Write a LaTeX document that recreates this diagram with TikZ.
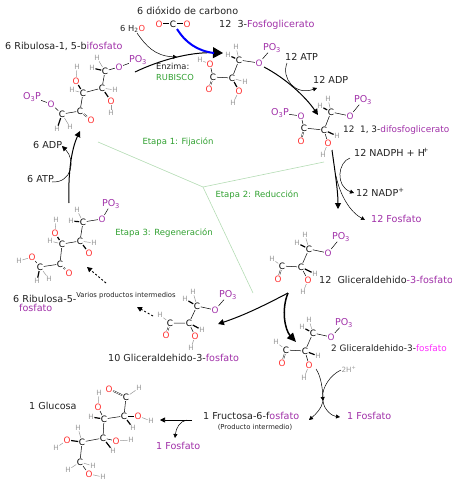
\documentclass[tikz,border=0pt]{standalone}
\usepackage{fontspec}
\setmainfont{DejaVu Sans}
\usetikzlibrary{arrows.meta}
\definecolor{fosfo}{HTML}{A030A8}
\definecolor{fosfob}{HTML}{FF30FF}
\definecolor{oxi}{HTML}{FF3030}
\definecolor{etapa}{HTML}{30A030}
\definecolor{gris}{HTML}{999999}
\definecolor{linea}{HTML}{B4DCB4}
\definecolor{texto}{HTML}{222222}

\begin{document}
\begin{tikzpicture}[
  x=1pt, y=-1pt,
  every node/.style={inner sep=0.5pt},
  catom/.style={text=black, font=\fontsize{8.8}{9}\selectfont},
  oatom/.style={text=oxi, font=\fontsize{8.8}{9}\selectfont},
  hatom/.style={text=gris, font=\fontsize{7.2}{8}\selectfont},
  patom/.style={text=fosfo, font=\fontsize{9.5}{10}\selectfont, inner sep=0pt},
  bond/.style={draw, line width=0.5pt},
  hbond/.style={draw=gris, line width=0.5pt},
  wbond/.style={draw=black, line width=1.2pt},
  dbond/.style={draw, line width=0.4pt, double, double distance=0.7pt},
  lab/.style={anchor=base west, inner sep=0pt, text=texto, font=\fontsize{9.6}{10}\selectfont},
  tightlab/.style={lab, font=\fontsize{8.9}{10}\selectfont},
  sublab/.style={lab, font=\fontsize{8.3}{9}\selectfont},
  stage/.style={text=etapa, font=\fontsize{8.5}{9}\selectfont},
  smalltxt/.style={text=texto, font=\fontsize{6.8}{7}\selectfont},
  arrow/.style={draw, line width=0.5pt, -{Triangle[length=4pt, width=4pt]}},
  marrow/.style={draw, line width=1pt, -{Triangle[length=6pt, width=6pt]}},
  barrow/.style={draw, line width=1.5pt, -{Triangle[length=9pt, width=8pt]}},
  darrow/.style={draw, line width=0.9pt, dash pattern=on 2pt off 2pt, -{Triangle[length=5pt, width=5pt]}},
  sep/.style={draw=linea, line width=0.6pt}]

  \useasboundingbox (0,0) rectangle (452,480);

  % ---- stage separators -----------------------------------------------------
  \coordinate (sepM) at (203,187);
  \coordinate (sepA) at (98,142);
  \coordinate (sepB) at (324,162);
  \coordinate (sepC) at (253,293);
  \draw[sep] (sepA) -- (sepM) -- (sepB);
  \draw[sep] (sepM) -- (sepC);
  \node[stage] (etapaA) at (178,142) {Etapa 1: Fijación};
  \node[stage] (etapaB) at (257,195) {Etapa 2: Reducción};
  \node[stage] (etapaC) at (164,233) {Etapa 3: Regeneración};

  % ---- labels -----------------------------------------------------------------
  \node[lab] (lCO) at (137,14) {6 dióxido de carbono};
  \node[lab] (lPG) at (219,27) {12~~3-\textcolor{fosfo}{Fosfoglicerato}};
  \node[lab] (lRB) at (5,49) {6 Ribulosa-1, 5-b\textcolor{fosfo}{ifosfato}};
  \node[sublab] (lHO) at (120,31) {6 H\textsubscript{2}\textcolor{oxi}{O}};
  \node[sublab] (lEN) at (156,69) {Enzima:};
  \node[sublab, text=etapa] (lRU) at (156,80) {RUBISCO};
  \node[lab] (lATa) at (285,60) {12 ATP};
  \node[lab] (lADa) at (313,83) {12 ADP};
  \node[tightlab] (lDF) at (343,132) {12~~1, 3-\textcolor{fosfo}{difosfoglicerato}};
  \node[lab] (lNH) at (354,156) {12 NADPH + H\kern-2pt\textsuperscript{+}};
  \node[lab] (lNP) at (356,196) {12 NADP\textsuperscript{+}};
  \node[lab, text=fosfo] (lFa) at (371,222) {12 Fosfato};
  \node[lab] (lGa) at (319,283) {12~~Gliceraldehido\textcolor{fosfo}{-3-fosfato}};
  \node[tightlab] (lGb) at (331,351) {2 Gliceraldehido-3-\textcolor{fosfob}{fosfato}};
  \node[lab] (lGc) at (108,361) {10 Gliceraldehido-3-\textcolor{fosfo}{fosfato}};
  \node[lab] (lAD) at (33,148) {6 ADP};
  \node[lab] (lAT) at (27,182) {6 ATP};
  \node[lab] (lRa) at (13,302) {6 Ribulosa-5-};
  \node[lab, text=fosfo] (lRb) at (19,311) {fosfato};
  \node[smalltxt] (lVP) at (126,296) {Varios productos intermedios};
  \node[lab] (lGL) at (29,409) {1 Glucosa};
  \node[lab] (lFR) at (203,419) {1 Fructosa-6-f\textcolor{fosfo}{osfato}};
  \node[smalltxt] (lPI) at (255,427) {(Producto intermedio)};
  \node[lab, text=fosfo] (lFb) at (347,419) {1 Fosfato};
  \node[lab, text=fosfo] (lFc) at (156,449) {1 Fosfato};
  \node[hatom] (lHP) at (349,369) {2H\textsuperscript{+}};

  % ---- carbon dioxide -----------------------------------------------------------
  \node[oatom] (coOa) at (159,24) {O};
  \node[catom] (coC) at (173,24) {C};
  \node[oatom] (coOb) at (187,24) {O};
  \draw[dbond] (coOa) -- (coC);
  \draw[dbond] (coC) -- (coOb);

  % ---- ribulose-1,5-bisphosphate ------------------------------------------------
  \node[patom] (rbP) at (138,60) {PO\textsubscript{3}};
  \node[oatom, text=fosfo] (rbOa) at (119,67) {O};
  \node[catom] (rbCa) at (105,71) {C};
  \node[hatom] (rbHa) at (97,58) {H};
  \node[hatom] (rbHb) at (92,68) {H};
  \node[catom] (rbCb) at (102,88) {C};
  \node[hatom] (rbHc) at (115,90) {H};
  \node[oatom] (rbOb) at (111,101) {O};
  \node[hatom] (rbHd) at (111,113) {H};
  \node[catom] (rbCc) at (83,93) {C};
  \node[hatom] (rbHe) at (72,90) {H};
  \node[oatom] (rbOc) at (76,81) {O};
  \node[hatom] (rbHf) at (77,67) {H};
  \node[catom] (rbCd) at (80,111) {C};
  \node[oatom] (rbOd) at (91,120) {O};
  \node[catom] (rbCe) at (62,114) {C};
  \node[hatom] (rbHg) at (57,129) {H};
  \node[hatom] (rbHh) at (70,127) {H};
  \node[oatom, text=fosfo] (rbOe) at (51,104) {O};
  \node[patom] (rbQ) at (32,97) {O\textsubscript{3}P};
  \draw[bond] (rbP) -- (rbOa) -- (rbCa) -- (rbCb) -- (rbCc) -- (rbCd) -- (rbCe) -- (rbOe) -- (rbQ);
  \draw[dbond] (rbCd) -- (rbOd);
  \draw[hbond] (rbCa) -- (rbHa);
  \draw[wbond] (rbCa) -- (rbHb);
  \draw[hbond] (rbCb) -- (rbHc);
  \draw[wbond] (rbCb) -- (rbOb);
  \draw[hbond] (rbOb) -- (rbHd);
  \draw[hbond] (rbCc) -- (rbHe);
  \draw[wbond] (rbCc) -- (rbOc);
  \draw[hbond] (rbOc) -- (rbHf);
  \draw[wbond] (rbCe) -- (rbHg);
  \draw[hbond] (rbCe) -- (rbHh);

  % ---- 3-phosphoglycerate ---------------------------------------------------------
  \node[hatom] (pgHa) at (200,60) {H};
  \node[oatom] (pgOa) at (210,64) {O};
  \node[catom] (pgCa) at (213,77) {C};
  \node[oatom] (pgOb) at (209,89) {O};
  \node[catom] (pgCb) at (232,78) {C};
  \node[hatom] (pgHb) at (245,82) {H};
  \node[oatom] (pgOc) at (239,91) {O};
  \node[hatom] (pgHc) at (233,103) {H};
  \node[catom] (pgCc) at (239,60) {C};
  \node[hatom] (pgHd) at (236,47) {H};
  \node[hatom] (pgHe) at (228,55) {H};
  \node[oatom, text=fosfo] (pgOd) at (259,63) {O};
  \node[patom] (pgP) at (272,48) {PO\textsubscript{3}};
  \draw[bond] (pgOa) -- (pgCa) -- (pgCb) -- (pgCc) -- (pgOd) -- (pgP);
  \draw[hbond] (pgHa) -- (pgOa);
  \draw[dbond] (pgCa) -- (pgOb);
  \draw[hbond] (pgCb) -- (pgHb);
  \draw[wbond] (pgCb) -- (pgOc);
  \draw[hbond] (pgOc) -- (pgHc);
  \draw[hbond] (pgCc) -- (pgHd);
  \draw[wbond] (pgCc) -- (pgHe);

  % ---- 1,3-bisphosphoglycerate -------------------------------------------------
  \node[catom] (dfCa) at (331,112) {C};
  \node[hatom] (dfHa) at (328,99) {H};
  \node[hatom] (dfHb) at (320,106) {H};
  \node[oatom, text=fosfo] (dfOa) at (350,116) {O};
  \node[patom] (dfP) at (363,100) {PO\textsubscript{3}};
  \node[catom] (dfCb) at (324,130) {C};
  \node[hatom] (dfHc) at (337,136) {H};
  \node[oatom] (dfOb) at (328,143) {O};
  \node[hatom] (dfHd) at (323,155) {H};
  \node[catom] (dfCc) at (304,128) {C};
  \node[oatom] (dfOc) at (301,141) {O};
  \node[oatom, text=fosfo] (dfOd) at (301,116) {O};
  \node[patom] (dfQ) at (280,113) {O\textsubscript{3}P};
  \draw[bond] (dfP) -- (dfOa) -- (dfCa) -- (dfCb) -- (dfCc) -- (dfOd) -- (dfQ);
  \draw[dbond] (dfCc) -- (dfOc);
  \draw[hbond] (dfCa) -- (dfHa);
  \draw[wbond] (dfCa) -- (dfHb);
  \draw[wbond] (dfCb) -- (dfHc);
  \draw[bond] (dfCb) -- (dfOb);
  \draw[hbond] (dfOb) -- (dfHd);

  % ---- glyceraldehyde-3-phosphate, right ------------------------------------------
  \node[catom] (gaCa) at (309,249) {C};
  \node[hatom] (gaHa) at (305,235) {H};
  \node[hatom] (gaHb) at (297,243) {H};
  \node[oatom, text=fosfo] (gaOa) at (328,253) {O};
  \node[patom] (gaP) at (341,237) {PO\textsubscript{3}};
  \node[catom] (gaCb) at (301,267) {C};
  \node[hatom] (gaHc) at (315,274) {H};
  \node[oatom] (gaOb) at (308,280) {O};
  \node[hatom] (gaHd) at (303,292) {H};
  \node[catom] (gaCc) at (282,266) {C};
  \node[hatom] (gaHe) at (272,259) {H};
  \node[oatom] (gaOc) at (278,279) {O};
  \draw[bond] (gaP) -- (gaOa) -- (gaCa) -- (gaCb) -- (gaCc);
  \draw[dbond] (gaCc) -- (gaOc);
  \draw[hbond] (gaCa) -- (gaHa);
  \draw[wbond] (gaCa) -- (gaHb);
  \draw[wbond] (gaCb) -- (gaHc);
  \draw[bond] (gaCb) -- (gaOb);
  \draw[hbond] (gaOb) -- (gaHd);
  \draw[hbond] (gaCc) -- (gaHe);

  % ---- glyceraldehyde-3-phosphate, lower right ------------------------------------
  \node[catom] (gbCa) at (313,333) {C};
  \node[hatom] (gbHa) at (309,320) {H};
  \node[hatom] (gbHb) at (302,327) {H};
  \node[oatom, text=fosfo] (gbOa) at (331,337) {O};
  \node[patom] (gbP) at (344,323) {PO\textsubscript{3}};
  \node[catom] (gbCb) at (305,351) {C};
  \node[hatom] (gbHc) at (318,356) {H};
  \node[oatom] (gbOb) at (309,365) {O};
  \node[hatom] (gbHd) at (304,378) {H};
  \node[catom] (gbCc) at (286,350) {C};
  \node[hatom] (gbHe) at (276,342) {H};
  \node[oatom] (gbOc) at (282,363) {O};
  \draw[bond] (gbP) -- (gbOa) -- (gbCa) -- (gbCb) -- (gbCc);
  \draw[dbond] (gbCc) -- (gbOc);
  \draw[hbond] (gbCa) -- (gbHa);
  \draw[wbond] (gbCa) -- (gbHb);
  \draw[wbond] (gbCb) -- (gbHc);
  \draw[bond] (gbCb) -- (gbOb);
  \draw[hbond] (gbOb) -- (gbHd);
  \draw[hbond] (gbCc) -- (gbHe);

  % ---- glyceraldehyde-3-phosphate, middle -------------------------------------------
  \node[catom] (gcCa) at (197,306) {C};
  \node[hatom] (gcHa) at (193,292) {H};
  \node[hatom] (gcHb) at (185,299) {H};
  \node[oatom, text=fosfo] (gcOa) at (215,310) {O};
  \node[patom] (gcP) at (228,295) {PO\textsubscript{3}};
  \node[catom] (gcCb) at (189,323) {C};
  \node[hatom] (gcHc) at (202,330) {H};
  \node[oatom] (gcOb) at (195,336) {O};
  \node[hatom] (gcHd) at (191,348) {H};
  \node[catom] (gcCc) at (170,323) {C};
  \node[hatom] (gcHe) at (160,315) {H};
  \node[oatom] (gcOc) at (166,335) {O};
  \draw[bond] (gcP) -- (gcOa) -- (gcCa) -- (gcCb) -- (gcCc);
  \draw[dbond] (gcCc) -- (gcOc);
  \draw[hbond] (gcCa) -- (gcHa);
  \draw[wbond] (gcCa) -- (gcHb);
  \draw[wbond] (gcCb) -- (gcHc);
  \draw[bond] (gcCb) -- (gcOb);
  \draw[hbond] (gcOb) -- (gcHd);
  \draw[hbond] (gcCc) -- (gcHe);

  % ---- ribulose-5-phosphate ----------------------------------------------------------
  \node[patom] (rfP) at (111,204) {PO\textsubscript{3}};
  \node[oatom, text=fosfo] (rfOa) at (102,219) {O};
  \node[catom] (rfCa) at (83,222) {C};
  \node[hatom] (rfHa) at (77,210) {H};
  \node[hatom] (rfHb) at (71,221) {H};
  \node[catom] (rfCb) at (80,241) {C};
  \node[hatom] (rfHc) at (94,243) {H};
  \node[oatom] (rfOb) at (89,253) {O};
  \node[catom] (rfCc) at (62,244) {C};
  \node[hatom] (rfHd) at (50,241) {H};
  \node[oatom] (rfOc) at (55,233) {O};
  \node[hatom] (rfHe) at (56,220) {H};
  \node[catom] (rfCd) at (60,264) {C};
  \node[oatom] (rfOd) at (69,273) {O};
  \node[catom] (rfCe) at (40,267) {C};
  \node[hatom] (rfHf) at (37,281) {H};
  \node[hatom] (rfHg) at (49,279) {H};
  \node[oatom] (rfOe) at (32,257) {O};
  \node[hatom] (rfHh) at (19,261) {H};
  \draw[bond] (rfP) -- (rfOa) -- (rfCa) -- (rfCb) -- (rfCc) -- (rfCd) -- (rfCe) -- (rfOe);
  \draw[dbond] (rfCd) -- (rfOd);
  \draw[hbond] (rfCa) -- (rfHa);
  \draw[wbond] (rfCa) -- (rfHb);
  \draw[hbond] (rfCb) -- (rfHc);
  \draw[wbond] (rfCb) -- (rfOb);
  \draw[hbond] (rfCc) -- (rfHd);
  \draw[wbond] (rfCc) -- (rfOc);
  \draw[hbond] (rfOc) -- (rfHe);
  \draw[wbond] (rfCe) -- (rfHf);
  \draw[hbond] (rfCe) -- (rfHg);
  \draw[hbond] (rfOe) -- (rfHh);

  % ---- glucose --------------------------------------------------------------------------
  \node[oatom] (glOa) at (109,389) {O};
  \node[catom] (glCa) at (126,397) {C};
  \node[hatom] (glHa) at (139,388) {H};
  \node[catom] (glCb) at (124,416) {C};
  \node[oatom] (glOb) at (138,416) {O};
  \node[hatom] (glHb) at (151,421) {H};
  \node[hatom] (glHc) at (133,428) {H};
  \node[catom] (glCc) at (104,419) {C};
  \node[hatom] (glHd) at (91,417) {H};
  \node[oatom] (glOc) at (98,407) {O};
  \node[hatom] (glHe) at (99,393) {H};
  \node[catom] (glCd) at (103,438) {C};
  \node[oatom] (glOd) at (116,441) {O};
  \node[hatom] (glHf) at (131,440) {H};
  \node[hatom] (glHg) at (113,451) {H};
  \node[catom] (glCe) at (82,442) {C};
  \node[oatom] (glOe) at (67,440) {O};
  \node[hatom] (glHh) at (56,448) {H};
  \node[hatom] (glHi) at (78,428) {H};
  \node[catom] (glCf) at (80,462) {C};
  \node[hatom] (glHj) at (68,470) {H};
  \node[hatom] (glHk) at (93,466) {H};
  \node[oatom] (glOf) at (89,474) {O};
  \node[hatom] (glHl) at (103,477) {H};
  \draw[bond] (glCa) -- (glCb) -- (glCc) -- (glCd) -- (glCe) -- (glCf);
  \draw[dbond] (glOa) -- (glCa);
  \draw[hbond] (glCa) -- (glHa);
  \draw[bond] (glCb) -- (glOb);
  \draw[hbond] (glOb) -- (glHb);
  \draw[wbond] (glCb) -- (glHc);
  \draw[wbond] (glCc) -- (glHd);
  \draw[bond] (glCc) -- (glOc);
  \draw[hbond] (glOc) -- (glHe);
  \draw[bond] (glCd) -- (glOd);
  \draw[hbond] (glOd) -- (glHf);
  \draw[wbond] (glCd) -- (glHg);
  \draw[wbond] (glCe) -- (glOe);
  \draw[hbond] (glOe) -- (glHh);
  \draw[hbond] (glCe) -- (glHi);
  \draw[hbond] (glCf) -- (glHj);
  \draw[hbond] (glCf) -- (glHk);
  \draw[bond] (glCf) -- (glOf);
  \draw[hbond] (glOf) -- (glHl);

  % ---- arrows, top -------------------------------------------------------------------
  \coordinate (rubA) at (135,72);
  \coordinate (rubB) at (223,53);
  \coordinate (rubC) at (177,57);
  \coordinate (coA) at (177,29);
  \coordinate (coB) at (214,53);
  \coordinate (hoA) at (137,33);
  \draw[marrow, -{Triangle[length=10pt, width=11pt]}] (rubA) .. controls (160,60) and (190,52) .. (rubB);
  \draw[draw=blue, line width=2pt] (coA) .. controls (185,42) and (197,51) .. (coB);
  \draw[arrow] (hoA) .. controls (146,46) and (155,56) .. (rubC);

  \coordinate (pgA) at (264,67);
  \coordinate (pgB) at (318,115);
  \coordinate (atA) at (287,63);
  \coordinate (atB) at (317,88);
  \draw[marrow] (pgA) .. controls (285,78) and (305,96) .. (pgB);
  \draw[arrow] (atA) .. controls (281,78) and (295,96) .. (atB);

  \coordinate (dfA) at (332,150);
  \coordinate (dfB) at (338,209);
  \coordinate (nhA) at (350,158);
  \coordinate (nhB) at (354,193);
  \coordinate (nhM) at (336,176);
  \coordinate (nhC) at (365,220);
  \draw[marrow] (dfA) .. controls (334,165) and (338,190) .. (dfB);
  \draw[arrow] (nhA) .. controls (338,162) and (335,186) .. (nhB);
  \draw[arrow] (nhM) .. controls (340,195) and (350,212) .. (nhC);

  % ---- arrows, middle ----------------------------------------------------------------
  \coordinate (gaT) at (288,293);
  \coordinate (gbT) at (296,342);
  \coordinate (gcT) at (218,324);
  \draw[marrow] (gaT) .. controls (265,305) and (245,315) .. (gcT);
  \draw[barrow] (gaT) .. controls (281,310) and (285,330) .. (gbT);

  \coordinate (vpA) at (106,283);
  \coordinate (vpB) at (87,267);
  \coordinate (vpC) at (153,316);
  \coordinate (vpD) at (137,307);
  \draw[darrow] (vpA) -- (vpB);
  \draw[darrow] (vpC) -- (vpD);

  \coordinate (rfT) at (69,203);
  \coordinate (rbT) at (80,131);
  \coordinate (atC) at (52,182);
  \coordinate (adC) at (62,146);
  \draw[marrow] (rfT) .. controls (68,175) and (71,150) .. (rbT);
  \draw[draw, line width=0.5pt, -{Triangle[length=5pt, width=5pt]}] (atC) .. controls (72,183) and (76,160) .. (adC);

  % ---- arrows, bottom ----------------------------------------------------------------
  \coordinate (hpA) at (341,370);
  \coordinate (hpM) at (323,401);
  \coordinate (goA) at (316,369);
  \coordinate (frT) at (309,420);
  \coordinate (fbT) at (340,417);
  \draw[arrow] (hpA) .. controls (330,375) and (322,388) .. (hpM);
  \draw[draw, line width=0.5pt] (goA) .. controls (321,376) and (323,390) .. (hpM);
  \draw[arrow] (hpM) .. controls (322,408) and (316,414) .. (frT);
  \draw[arrow] (hpM) .. controls (324,410) and (332,416) .. (fbT);

  \coordinate (frA) at (192,420);
  \coordinate (frB) at (187,420);
  \coordinate (glT) at (160,420);
  \coordinate (ffT) at (175,438);
  \draw[arrow, line width=0.7pt, -{Triangle[length=5pt, width=5pt]}] (frA) -- (glT);
  \draw[arrow] (frB) .. controls (180,421) and (176,428) .. (ffT);
\end{tikzpicture}
\end{document}
